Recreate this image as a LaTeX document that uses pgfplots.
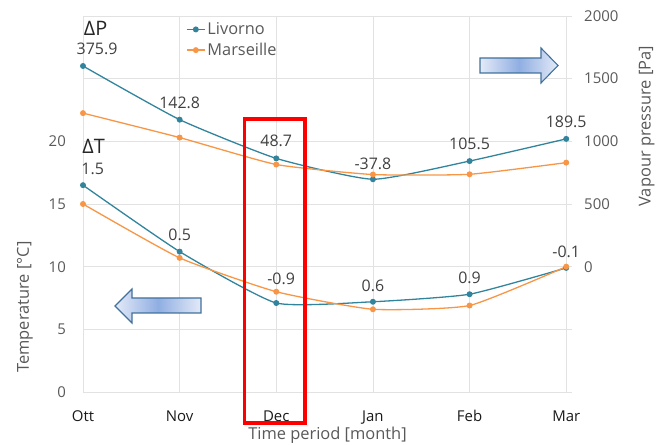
\documentclass[border=0pt]{standalone}
\usepackage{fontspec}
\setmainfont{Open Sans}
\usepackage{pgfplots}
\usepackage{pgfplotstable}
\pgfplotsset{compat=1.18}

\definecolor{livo}{HTML}{31849B}
\definecolor{mars}{HTML}{F79646}
\definecolor{txt}{HTML}{595959}
\definecolor{lab}{HTML}{404040}
\definecolor{gridc}{HTML}{E2E2E2}
\definecolor{arrowb}{HTML}{41719C}
\definecolor{arrowm}{HTML}{90AEE2}
\definecolor{arrowl}{HTML}{E4EAF7}

\pgfdeclarehorizontalshading{arrowshade}{100bp}{
  color(0bp)=(arrowl); color(25bp)=(arrowl); color(50bp)=(arrowm);
  color(75bp)=(arrowl); color(100bp)=(arrowl)}

% month index, temperature [C], vapour pressure [Pa]
\pgfplotstableread{
m tL   tM   pL     pM
0 16.5 15.0 1600.9 1225
1 11.2 10.7 1172.8 1030
2 7.1  8.0  863.7  815
3 7.2  6.6  697.2  735
4 7.8  6.9  842.5  737
5 9.9  10.0 1019.5 830
}\data

% label positions (left axis units)
\pgfplotstableread{
x     y     t
0.145 27.36 375.9
1     23.04 142.8
2     20.0  48.7
3     18.24 -37.8
4     19.76 105.5
5     21.55 189.5
0.10  17.76 1.5
1     12.56 0.5
2.05  9.04  -0.9
3     8.48  0.6
4     9.14  0.9
5     11.17 -0.1
}\labels

\pgfplotstableread{
x     y     t
0.13  29.04 ΔP
0.11  19.6  ΔT
}\heads

\pgfplotsset{
  base/.style={
    width=489bp, height=376bp, scale only axis,
    at={(83bp,53bp)}, anchor=south west,
    xmin=0, xmax=5.06,
    axis line style={draw=none},
    major tick length=0pt,
    /pgf/number format/assume math mode=true,
    /pgf/number format/1000 sep={},
    tick label style={font=\fontsize{15}{18}\selectfont, text=txt, inner sep=0pt},
    label style={font=\fontsize{16.5}{19}\selectfont, text=txt},
  },
  ser/.style={mark=*, mark size=2.3bp, line width=1.3bp, smooth, tension=0.3},
}

\begin{document}
\begin{tikzpicture}[x=1bp, y=1bp]
\useasboundingbox (0,0) rectangle (665,445);

\begin{axis}[base,
  ymin=0, ymax=30,
  ytick={0,5,...,20},
  extra y ticks={25,30}, extra y tick labels={},
  extra y tick style={grid=major},
  xtick={0,...,5},
  xticklabels={Ott,Nov,Dec,Jan,Feb,Mar},
  grid=major,
  grid style={gridc, line width=0.8bp},
  yticklabel style={anchor=east, xshift=-17bp},
  xticklabel style={anchor=base, yshift=-29.5bp, text=black!90},
  ylabel={Temperature [°C]},
  ylabel style={at={(axis description cs:-0.1186,0.226)}, anchor=center, rotate=0},
  xlabel={Time period [month]},
  xlabel style={at={(axis description cs:0.5,-0.114)}, anchor=center},
  legend style={draw=none, fill=none, at={(axis description cs:0.2106,0.988)},
    anchor=north west, font=\fontsize{16.4}{19}\selectfont, text=txt,
    row sep=3bp, inner sep=0pt},
  legend cell align=left,
  legend image code/.code={\draw[mark repeat=2,mark phase=2,#1]
    plot coordinates {(0bp,0bp)(9bp,0bp)(18bp,0bp)};},
]
\addplot[ser, color=livo] table[x=m, y=tL] {\data};
\addlegendentry{Livorno}
\addplot[ser, color=mars] table[x=m, y=tM] {\data};
\addlegendentry{Marseille}

\addplot[draw=none, mark=none, forget plot,
  nodes near coords, point meta=explicit symbolic,
  nodes near coords align=center,
  every node near coord/.append style={font=\fontsize{16}{19}\selectfont, text=lab, inner sep=0pt}]
  table[x=x, y=y, meta=t] {\labels};
\addplot[draw=none, mark=none, forget plot,
  nodes near coords, point meta=explicit symbolic,
  nodes near coords align=center,
  every node near coord/.append style={font=\fontsize{20}{23}\selectfont, text=black!85, inner sep=0pt}]
  table[x=x, y=y, meta=t] {\heads};
\end{axis}

\begin{axis}[base,
  ymin=-1000, ymax=2000,
  ytick={0,500,...,2000},
  xtick=\empty,
  yticklabel pos=right,
  yticklabel style={anchor=west, xshift=12bp},
  ylabel={Vapour pressure [Pa]},
  ylabel style={at={(axis description cs:1.153,0.707)}, anchor=center, rotate=0},
]
\addplot[ser, color=livo] table[x=m, y=pL] {\data};
\addplot[ser, color=mars] table[x=m, y=pM] {\data};
\end{axis}

% decorative arrows
\path[draw=arrowb, line width=1.1bp, shading=arrowshade]
  (480,372)--(541,372)--(541,362)--(558,379.5)--(541,397)--(541,387)--(480,387)--cycle;
\path[draw=arrowb, line width=1.1bp, shading=arrowshade]
  (201,132)--(132,132)--(132,122)--(115,139)--(132,156)--(132,147)--(201,147)--cycle;

% highlight
\draw[red, line width=3.8bp] (244.5,326) rectangle (305,22);
\end{tikzpicture}
\end{document}
